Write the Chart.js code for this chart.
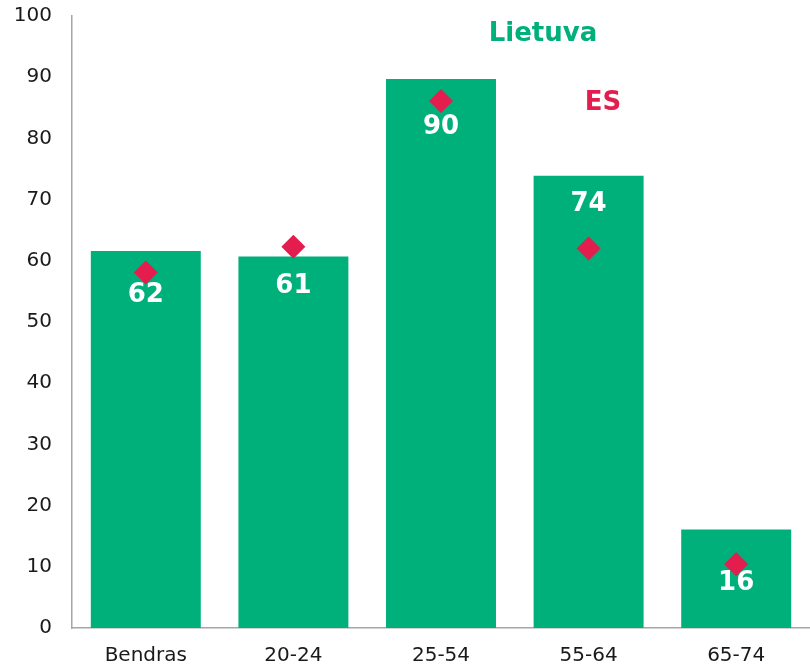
<!DOCTYPE html>
<html>
<head>
<meta charset="utf-8">
<script src="https://cdn.jsdelivr.net/npm/chart.js@4/dist/chart.umd.min.js"></script>
<style>
  html, body { margin: 0; padding: 0; background: #fff; overflow: hidden; }
  #wrap { width: 810px; height: 666px; }
  canvas { display: block; }
</style>
</head>
<body>
<div id="wrap"><canvas id="chart"></canvas></div>
<script>
const categories = ['Bendras', '20-24', '25-54', '55-64', '65-74']
const lietuva = [61.6, 60.7, 89.7, 73.9, 16.1]
const es = [58.1, 62.3, 86.1, 62.0, 10.4]
const yTicks = [0, 10, 20, 30, 40, 50, 60, 70, 80, 90, 100]

const GREEN = '#00B07B'
const RED = '#E31D4E'
const FONT = "'DejaVu Sans', Verdana, sans-serif"

// how far below the bar top each value label sits (px)
const labelOffset = [44, 30, 48, 29, 54]

const barLabels = {
  id: 'barLabels',
  afterDatasetsDraw(chart) {
    const { ctx } = chart
    const meta = chart.getDatasetMeta(0)
    ctx.save()
    ctx.fillStyle = '#ffffff'
    ctx.font = `bold 26px ${FONT}`
    ctx.textAlign = 'center'
    ctx.textBaseline = 'middle'
    meta.data.forEach((bar, i) => {
      ctx.fillText(String(Math.round(lietuva[i])), bar.x, bar.y + labelOffset[i])
    })
    ctx.restore()
  },
}

const seriesNames = {
  id: 'seriesNames',
  afterDraw(chart) {
    const { ctx } = chart
    ctx.save()
    ctx.font = `bold 26px ${FONT}`
    ctx.textAlign = 'center'
    ctx.textBaseline = 'middle'
    ctx.fillStyle = GREEN
    ctx.fillText('Lietuva', 543, 34)
    ctx.fillStyle = RED
    ctx.fillText('ES', 603, 103)
    ctx.restore()
  },
}

new Chart(document.getElementById('chart'), {
  type: 'bar',
  data: {
    labels: categories,
    datasets: [
      {
        label: 'Lietuva',
        data: lietuva,
        backgroundColor: GREEN,
        categoryPercentage: 1,
        barPercentage: 0.745,
        order: 2,
      },
      {
        type: 'line',
        label: 'ES',
        data: es,
        showLine: false,
        pointStyle: 'rectRot',
        pointRadius: 12,
        pointHoverRadius: 12,
        backgroundColor: RED,
        borderColor: RED,
        borderWidth: 0,
        order: 1,
      },
    ],
  },
  options: {
    responsive: true,
    maintainAspectRatio: false,
    animation: false,
    layout: { autoPadding: false, padding: { top: 16, right: 0, left: 0, bottom: 0 } },
    plugins: {
      legend: { display: false },
      tooltip: { enabled: false },
    },
    scales: {
      x: {
        grid: { display: false, drawTicks: false },
        border: { display: true, color: '#a6a6a6', width: 1.5 },
        ticks: { color: '#1a1a1a', font: { family: FONT, size: 20 }, padding: 16 },
        afterFit(scale) { scale.height = 38 },
      },
      y: {
        min: 0,
        max: 100,
        afterBuildTicks(scale) { scale.ticks = yTicks.map((v) => ({ value: v })) },
        // hidden tick marks give the label gap without padding the top
        grid: { display: false, drawTicks: true, tickLength: 20 },
        border: { display: true, color: '#a6a6a6', width: 1.5 },
        ticks: { color: '#1a1a1a', font: { family: FONT, size: 20 }, padding: 0 },
        afterFit(scale) { scale.width = 72 },
      },
    },
  },
  plugins: [barLabels, seriesNames],
})
</script>
</body>
</html>
